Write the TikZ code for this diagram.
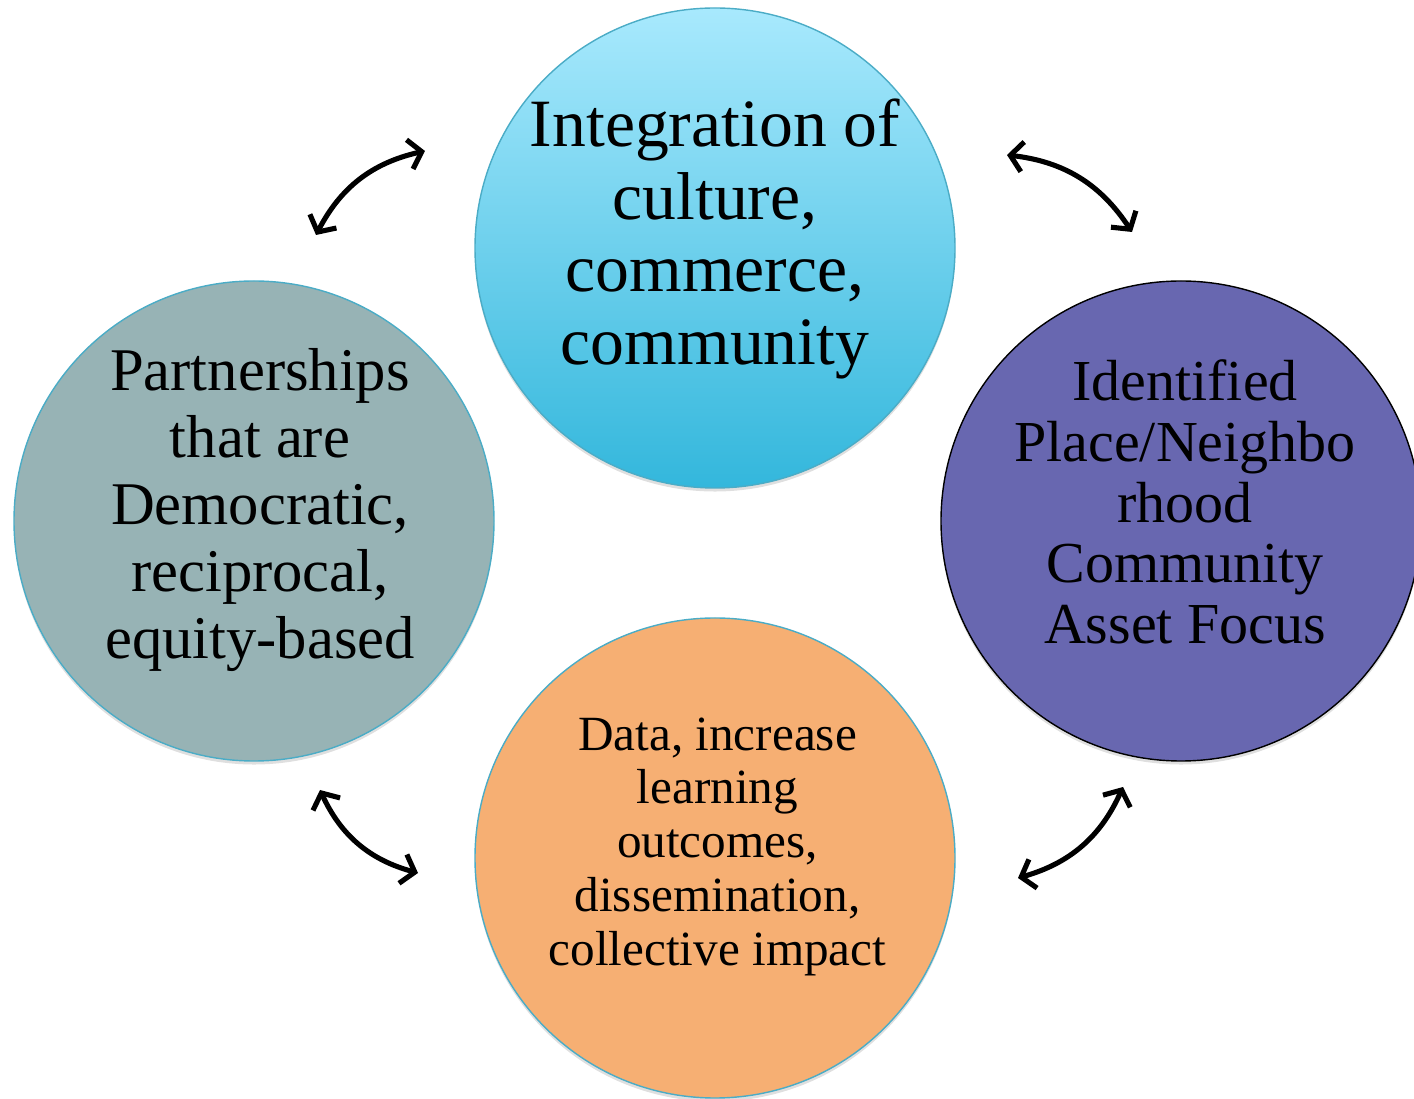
\documentclass[tikz,border=0pt]{standalone}
\usepackage{fontspec}
\setmainfont{Liberation Serif}
\usetikzlibrary{arrows.meta,shadows}
\definecolor{cyanlight}{HTML}{A8E9FD}
\definecolor{cyandark}{HTML}{33B7DC}
\definecolor{rimblue}{HTML}{4BACC6}
\definecolor{slategrey}{HTML}{97B3B5}
\definecolor{violet}{HTML}{6867B0}
\definecolor{apricot}{HTML}{F6AF73}
\tikzset{
  disc/.style={circle, minimum size=9.6cm, inner sep=0pt, draw=rimblue, line width=0.8pt,
    drop shadow={shadow xshift=0pt, shadow yshift=-2pt, opacity=0.25}},
  caption/.style={align=center, inner sep=0pt},
  swap arrow/.style={line width=2.9pt, {Straight Barb[length=7pt,width=17pt]}-{Straight Barb[length=7pt,width=17pt]}}
}
\begin{document}
\begin{tikzpicture}
\useasboundingbox (0,0) rectangle (28.28,21.96);
\node[disc, top color=cyanlight, bottom color=cyandark] (integration) at (14.3,17.0) {};
\node[disc, fill=slategrey] (partnerships) at (5.08,11.54) {};
\node[disc, fill=violet, draw=black] (place) at (23.62,11.54) {};
\node[disc, fill=apricot] (data) at (14.3,4.8) {};
\node[caption, font=\fontsize{38.5}{41.4}\selectfont] (integration-text) at (14.3,17.18) {Integration of\\culture,\\commerce,\\community};
\node[caption, font=\fontsize{34.5}{38}\selectfont] (partnerships-text) at (5.2,11.76) {Partnerships\\that are\\Democratic,\\reciprocal,\\equity-based};
\node[caption, font=\fontsize{33}{34.6}\selectfont] (place-text) at (23.7,11.92) {Identified\\Place/Neighbo\\rhood\\Community\\Asset Focus};
\node[caption, font=\fontsize{28}{30.6}\selectfont] (data-text) at (14.35,5.03) {Data, increase\\learning\\outcomes,\\dissemination,\\collective impact};
\coordinate (nw-a) at (6.32,17.26);
\coordinate (nw-b) at (8.5,18.94);
\coordinate (ne-a) at (20.14,18.86);
\coordinate (ne-b) at (22.64,17.32);
\coordinate (sw-a) at (6.4,6.16);
\coordinate (sw-b) at (8.36,4.5);
\coordinate (se-a) at (20.36,4.4);
\coordinate (se-b) at (22.46,6.22);
\draw[swap arrow] (nw-a) to[bend left=25] (nw-b);
\draw[swap arrow] (ne-a) to[bend left=25] (ne-b);
\draw[swap arrow] (sw-a) to[bend right=25] (sw-b);
\draw[swap arrow] (se-a) to[bend right=25] (se-b);
\end{tikzpicture}
\end{document}
